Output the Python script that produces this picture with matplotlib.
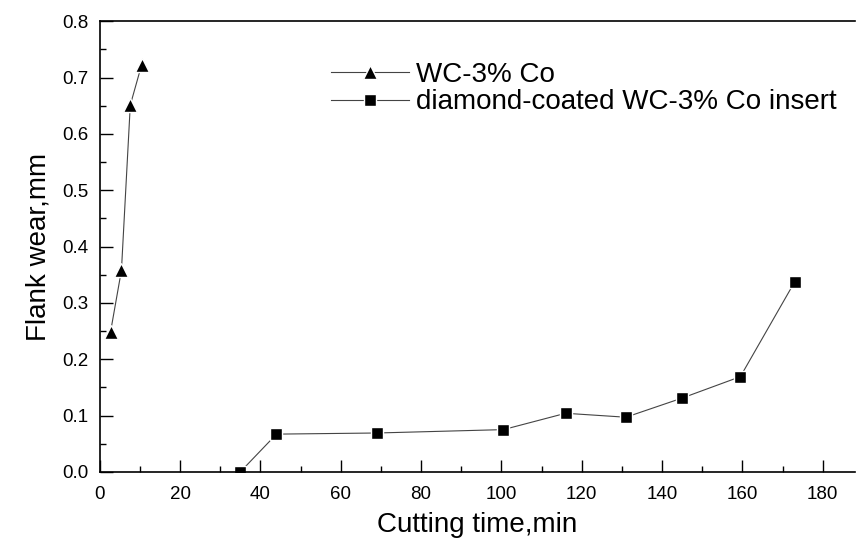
import matplotlib
matplotlib.use("Agg")
import matplotlib.pyplot as plt
from matplotlib.ticker import MultipleLocator

plt.rcParams['font.family'] = ['Liberation Sans', 'DejaVu Sans']

# Data
wc_time = [2.7, 5.4, 7.6, 10.4]
wc_wear = [0.249, 0.358, 0.651, 0.722]
dia_time = [35, 44, 69, 100.5, 116, 131, 145, 159.5, 173]
dia_wear = [0.0, 0.067, 0.069, 0.075, 0.104, 0.097, 0.131, 0.169, 0.337]
label_wc = "WC-3% Co"
label_dia = "diamond-coated WC-3% Co insert"

fig = plt.figure(figsize=(8.6, 5.43), dpi=100)
ax = fig.add_axes([0.116, 0.131, 0.878, 0.830])

ax.plot(wc_time, wc_wear, color='#444444', lw=0.8, marker='^', ms=10,
        mfc='black', mec='white', mew=1.0, label=label_wc)
ax.plot(dia_time, dia_wear, color='#444444', lw=0.8, marker='s', ms=8,
        mfc='black', mec='white', mew=1.0, label=label_dia)

ax.set_xlim(0, 188)
ax.set_ylim(0, 0.8)
ax.xaxis.set_major_locator(MultipleLocator(20))
ax.xaxis.set_minor_locator(MultipleLocator(10))
ax.yaxis.set_major_locator(MultipleLocator(0.1))
ax.yaxis.set_minor_locator(MultipleLocator(0.05))
ax.xaxis.set_major_formatter(matplotlib.ticker.FormatStrFormatter('%d'))
ax.yaxis.set_major_formatter(matplotlib.ticker.FormatStrFormatter('%.1f'))
ax.tick_params(which='both', direction='in', top=False, right=False,
               labelsize=13.5, width=1.0, pad=8)
ax.tick_params(axis='x', which='both', pad=10)
ax.tick_params(which='major', length=9)
ax.tick_params(which='minor', length=4)
ax.spines['right'].set_visible(False)
for s in ['left', 'bottom', 'top']:
    ax.spines[s].set_linewidth(1.2)

ax.set_xlabel("Cutting time,min", fontsize=20, labelpad=7)
ax.set_ylabel("Flank wear,mm", fontsize=20, labelpad=8)

ax.legend(loc='upper left', bbox_to_anchor=(0.292, 0.934), frameon=False,
          fontsize=20, handlelength=2.8, handletextpad=0.25, labelspacing=0.05,
          borderaxespad=0)

fig.savefig("out.png", dpi=100)
